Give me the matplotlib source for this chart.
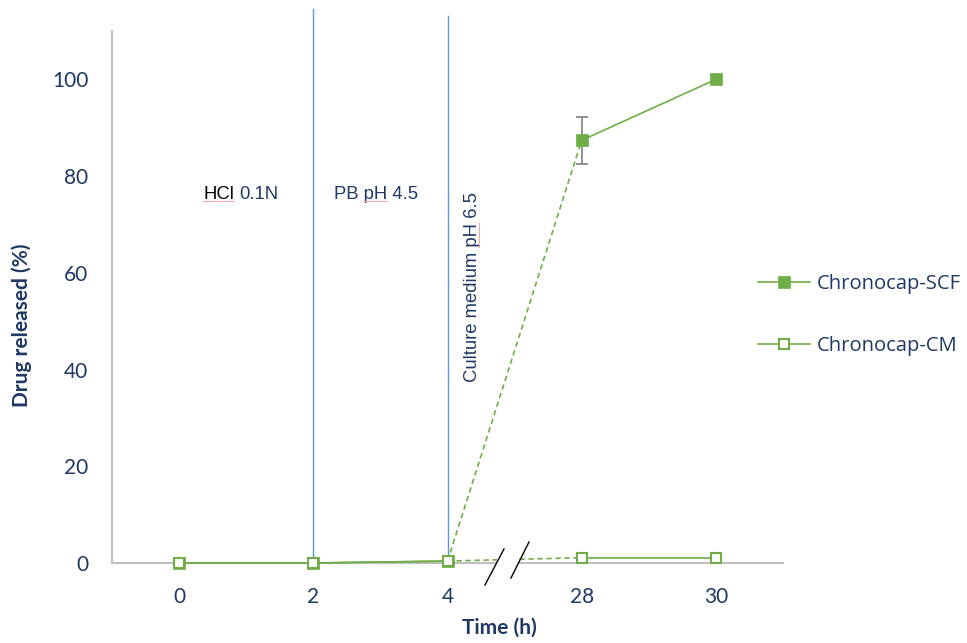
import matplotlib
matplotlib.use("Agg")
import matplotlib.pyplot as plt
from matplotlib.lines import Line2D
from matplotlib.patches import Rectangle
from matplotlib.transforms import offset_copy

# ---- data -------------------------------------------------------------
time_labels = ["0", "2", "4", "28", "30"]
scf_release = [0.0, 0.0, 0.4, 87.4, 100.0]
scf_error = [0.0, 0.0, 0.0, 4.8, 0.0]
cm_release = [0.0, 0.0, 0.4, 1.1, 1.1]
series_names = ["Chronocap-SCF", "Chronocap-CM"]
medium_change_times = ["2", "4"]
phase_labels = ["HCl 0.1N", "PB pH 4.5", "Culture medium pH 6.5"]
y_ticks = [0, 20, 40, 60, 80, 100]

# ---- style ------------------------------------------------------------
GREEN = "#70AD47"
NAVY = "#1F3864"
BLUE = "#5B9BD5"
AXIS_GREY = "#BFBFBF"
ERR_GREY = "#7F7F7F"
SQUIGGLE = "#F4A3A3"
plt.rcParams["font.family"] = ["Lato", "DejaVu Sans"]
ANNOT_FONT = ["Liberation Sans", "DejaVu Sans"]
LEGEND_FONT = ["Open Sans", "DejaVu Sans"]

x = list(range(len(time_labels)))
jump = time_labels.index("4")  # time axis is broken after 4 h

fig = plt.figure(figsize=(9.67, 6.43), dpi=100)
ax = fig.add_axes([112 / 967, 80 / 643, 671 / 967, 532 / 643])
ax.set_xlim(-0.5, len(x) - 0.5)
ax.set_ylim(0, 110)


def draw_series(values, face, marker_size, edge_width):
    kw = dict(color=GREEN, lw=1.2, clip_on=False, zorder=3)
    ax.plot(x[:jump + 1], values[:jump + 1], ls="-", **kw)
    ax.plot(x[jump:jump + 2], values[jump:jump + 2], ls=(0, (3.2, 2.2)), **kw)
    ax.plot(x[jump + 1:], values[jump + 1:], ls="-", **kw)
    ax.plot(x, values, ls="none", marker="s", ms=marker_size, mfc=face,
            mec=GREEN, mew=edge_width, clip_on=False, zorder=5)


draw_series(scf_release, GREEN, 8.2, 0.5)

# error bars only where a deviation was measured
err_idx = [i for i, e in enumerate(scf_error) if e > 0]
ax.errorbar([x[i] for i in err_idx], [scf_release[i] for i in err_idx],
            yerr=[scf_error[i] for i in err_idx], fmt="none",
            ecolor=ERR_GREY, elinewidth=1.2, capsize=4.4, capthick=1.2,
            zorder=2.5)

draw_series(cm_release, "white", 7.4, 1.5)

# medium change markers
for t, top in zip(medium_change_times, [114.5, 113.2]):
    i = time_labels.index(t)
    ax.plot([i, i], [0, top], color=BLUE, lw=1.0, clip_on=False, zorder=1.5)

# axis break between 4 h and 28 h
ax.add_patch(Rectangle((2.37, -1.5), 0.16, 4.0, facecolor="white",
                       edgecolor="none", clip_on=False, zorder=3.5))
for (x0, y0), (x1, y1) in [((2.279, -4.55), (2.421, 2.90)),
                           ((2.473, -3.10), (2.607, 4.34))]:
    ax.plot([x0, x1], [y0, y1], color="black", lw=1.0, clip_on=False,
            zorder=4)

# phase annotations
hcl_word, hcl_rest = phase_labels[0].split(" ", 1)
t_hcl = ax.text(0.179, 75.3, hcl_word, family=ANNOT_FONT, size=13.3,
                color="black", ha="left", va="baseline")
t_pb = ax.text(1.155, 75.3, phase_labels[1], family=ANNOT_FONT, size=13.3,
               color=NAVY, ha="left", va="baseline")
t_cm = ax.text(2.19, 57.0, phase_labels[2], family=ANNOT_FONT, size=13.3,
               color=NAVY, ha="center", va="center", rotation=90)

# axes styling
for side in ("top", "right"):
    ax.spines[side].set_visible(False)
for side in ("left", "bottom"):
    ax.spines[side].set_color(AXIS_GREY)
    ax.spines[side].set_linewidth(1.5)
ax.set_xticks(x)
ax.set_xticklabels(time_labels)
ax.set_yticks(y_ticks)
ax.tick_params(length=0, pad=17, labelsize=15, labelcolor=NAVY)

ax.set_xlabel("Time (h)", fontsize=15, fontweight="bold", color=NAVY,
              va="center")
ax.xaxis.set_label_coords(0.578, -0.122)
ax.set_ylabel("Drug released (%)", fontsize=15, fontweight="bold",
              color=NAVY, va="center")
ax.yaxis.set_label_coords(-0.134, 0.447)

handles = [
    Line2D([], [], color=GREEN, lw=1.2, marker="s", ms=8.2, mfc=GREEN,
           mec=GREEN, mew=0.5),
    Line2D([], [], color=GREEN, lw=1.2, marker="s", ms=7.4, mfc="white",
           mec=GREEN, mew=1.5),
]
fig.legend(handles, series_names, loc="center left",
           bbox_to_anchor=(758 / 967, 328 / 643), frameon=False,
           prop={"family": LEGEND_FONT, "size": 14.6}, handlelength=2.55,
           handletextpad=0.33, labelspacing=2.05, borderpad=0,
           borderaxespad=0, labelcolor=NAVY)

# remainder of the first label and spell-check style underlines
fig.canvas.draw()
renderer = fig.canvas.get_renderer()
to_fig = fig.transFigure.inverted()


def text_width(txt, t):
    return renderer.get_text_width_height_descent(
        txt, t.get_fontproperties(), ismath=False)[0]


ax.text(0.179, 75.3, hcl_rest, family=ANNOT_FONT, size=13.3, color=NAVY,
        ha="left", va="baseline",
        transform=offset_copy(ax.transData, fig=fig,
                              x=text_width(hcl_word + " ", t_hcl), y=0,
                              units="dots"))


def underline_h(t, prefix, word):
    bb = t.get_window_extent(renderer)
    base_y = ax.transData.transform(t.get_position())[1]
    xa = bb.x0 + text_width(prefix, t)
    xb = bb.x0 + text_width(prefix + word, t)
    p0 = to_fig.transform((xa, base_y - 2))
    p1 = to_fig.transform((xb, base_y - 2))
    fig.add_artist(Line2D([p0[0], p1[0]], [p0[1], p1[1]], color=SQUIGGLE,
                          lw=0.7, transform=fig.transFigure))


def underline_v(t, prefix, word):
    bb = t.get_window_extent(renderer)
    d = renderer.get_text_width_height_descent(
        t.get_text(), t.get_fontproperties(), ismath=False)[2]
    base_x = bb.x1 - d + 2
    ya = bb.y0 + text_width(prefix, t)
    yb = bb.y0 + text_width(prefix + word, t)
    p0 = to_fig.transform((base_x, ya))
    p1 = to_fig.transform((base_x, yb))
    fig.add_artist(Line2D([p0[0], p1[0]], [p0[1], p1[1]], color=SQUIGGLE,
                          lw=0.7, transform=fig.transFigure))


underline_h(t_hcl, "", hcl_word)
underline_h(t_pb, "PB ", "pH")
underline_v(t_cm, "Culture medium ", "pH")

fig.savefig("out.png", dpi=100)
